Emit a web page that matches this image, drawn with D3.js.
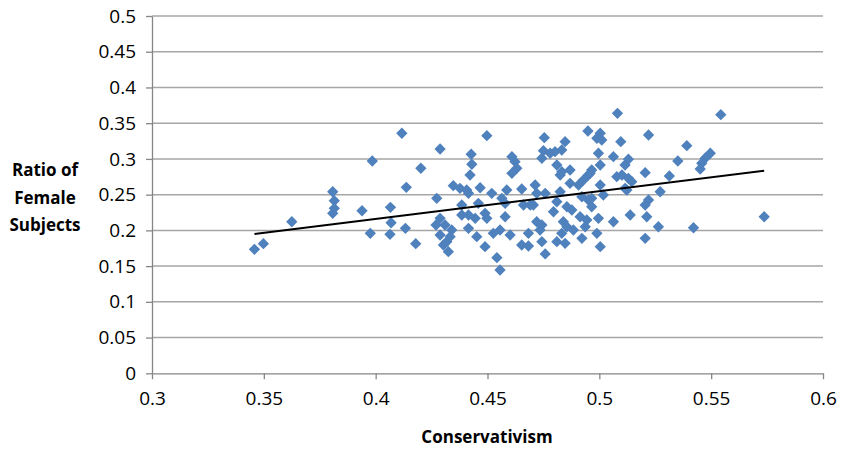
<!DOCTYPE html>
<html><head><meta charset="utf-8">
<script src="https://cdn.jsdelivr.net/npm/d3@7"></script>
<style>body{margin:0;background:#fff}svg{display:block}</style>
</head><body><svg id="c" width="841" height="449"></svg>
<script>
// ---- data ----
const conservativism = [0.3458,0.3498,0.3625,0.3808,0.3815,0.3815,0.3808,0.3939,0.3985,0.3976,0.4066,0.4069,0.4064,0.4117,0.4137,0.4133,0.4179,0.4202,
0.4497,0.4288,0.4427,0.4430,0.4422,0.4609,0.4623,0.4631,0.4609,0.4347,0.4377,0.4407,0.4415,0.4467,0.4519,0.4586,0.4653,0.4273,0.4385,0.4459,0.4564,0.4579,0.4661,
0.4385,0.4415,0.4445,0.4489,0.4497,0.4579,0.4288,0.4310,0.4340,0.4415,0.4288,0.4333,0.4452,0.4526,0.4556,0.4601,0.4653,0.4303,0.4325,0.4489,0.4542,0.4556,0.4318,0.4270,0.4683,0.4683,0.4720,0.4713,0.4691,
0.5081,0.4949,0.4754,0.5004,0.5011,0.4989,0.5096,0.4847,0.4832,0.4750,0.4780,0.4802,0.4743,0.4996,0.5063,0.4810,0.5004,0.4832,0.4869,0.4966,0.4951,0.4825,0.4929,0.4869,0.4907,0.5004,0.5078,
0.4720,0.4758,0.4825,0.4922,0.4951,0.5018,0.4705,0.4810,0.4855,0.4877,0.4795,0.4914,0.4944,0.4996,0.5063,0.4839,0.4855,0.4743,0.4735,0.4884,0.4937,0.4832,0.4989,0.4922,0.4743,0.4810,0.4847,0.5004,0.4758,0.4966,0.4966,0.4959,
0.5115,0.5130,0.5101,0.5130,0.5145,0.5115,0.5123,0.5138,0.5212,0.5205,0.5220,0.5205,0.5313,0.5272,0.5220,0.5205,0.5264,0.5543,0.5391,0.5351,0.5496,0.5473,0.5458,0.5451,0.5421,0.5737];
const femaleRatio = [0.1735,0.1814,0.2121,0.2541,0.2415,0.2309,0.2239,0.2275,0.2971,0.1959,0.2323,0.2107,0.1945,0.3359,0.2603,0.2029,0.1814,0.2869,
0.3325,0.3139,0.3065,0.2925,0.2775,0.3031,0.2961,0.2869,0.2799,0.2625,0.2589,0.2565,0.2519,0.2597,0.2519,0.2565,0.2579,0.2449,0.2355,0.2379,0.2449,0.2379,0.2355,
0.2215,0.2215,0.2169,0.2239,0.2169,0.2191,0.2169,0.2075,0.2005,0.2029,0.1935,0.1912,0.1912,0.1959,0.2005,0.1935,0.1795,0.1795,0.1702,0.1772,0.1618,0.1446,0.1842,0.2075,0.1959,0.1781,0.2121,0.2635,0.2355,
0.3638,0.3391,0.3297,0.3359,0.3265,0.3289,0.3241,0.3241,0.3125,0.3115,0.3079,0.3101,0.3009,0.3079,0.3031,0.2915,0.2915,0.2821,0.2845,0.2845,0.2775,0.2775,0.2705,0.2659,0.2635,0.2635,0.2751,
0.2519,0.2519,0.2541,0.2471,0.2425,0.2495,0.2355,0.2401,0.2331,0.2285,0.2261,0.2191,0.2145,0.2169,0.2121,0.2121,0.2051,0.2075,0.2005,0.2005,0.2051,0.1959,0.1959,0.1889,0.1842,0.1842,0.1819,0.1772,0.1670,0.2331,0.2449,0.2799,
0.2915,0.2995,0.2775,0.2729,0.2681,0.2589,0.2565,0.2215,0.2191,0.1889,0.3335,0.2807,0.2761,0.2541,0.2425,0.2355,0.2051,0.3619,0.3185,0.2971,0.3079,0.3009,0.2939,0.2859,0.2037,0.2191];
const trendX = [0.3458, 0.5737];
const trendY = [0.1949, 0.2835];
const xTicks = [0.3,0.35,0.4,0.45,0.5,0.55,0.6];
const xTickLabels = ["0.3","0.35","0.4","0.45","0.5","0.55","0.6"];
const yTicks = [0,0.05,0.1,0.15,0.2,0.25,0.3,0.35,0.4,0.45,0.5];
const yTickLabels = ["0","0.05","0.1","0.15","0.2","0.25","0.3","0.35","0.4","0.45","0.5"];
const xTitle = "Conservativism";
const yTitle = ["Ratio of","Female","Subjects"];

// ---- drawing ----
const svg = d3.select("#c");
const font = "'Open Sans', sans-serif";
const x = d3.scaleLinear().domain([0.3,0.6]).range([152,823]);
const y = d3.scaleLinear().domain([0,0.5]).range([373.3,16]);

// gridlines
svg.append("g").selectAll("line").data(yTicks.filter(d=>d>0)).join("line")
  .attr("x1",x(0.3)).attr("x2",x(0.6)).attr("y1",d=>y(d)).attr("y2",d=>y(d))
  .attr("stroke","#a6a6a6").attr("stroke-width",1.5);

// y axis
const yAxis = d3.axisLeft(y).tickValues(yTicks).tickSize(6).tickSizeOuter(0)
  .tickFormat((d,i)=>yTickLabels[i]);
const gy = svg.append("g").attr("transform",`translate(${x(0.3)},0)`).call(yAxis);
gy.select(".domain").attr("stroke","#868686").attr("stroke-width",1.3);
gy.selectAll(".tick line").attr("stroke","#868686").attr("stroke-width",1.3);
gy.selectAll(".tick text").attr("x",-16).attr("font-family",font).attr("font-size",19).attr("fill","#000");

// x axis
const xAxis = d3.axisBottom(x).tickValues(xTicks).tickSize(6).tickSizeOuter(0)
  .tickFormat((d,i)=>xTickLabels[i]);
const gx = svg.append("g").attr("transform",`translate(0,${y(0)})`).call(xAxis);
gx.select(".domain").attr("stroke","#868686").attr("stroke-width",1.3);
gx.selectAll(".tick line").attr("stroke","#868686").attr("stroke-width",1.3);
gx.selectAll(".tick text").attr("y",18).attr("font-family",font).attr("font-size",19).attr("fill","#000");

// points
const pts = conservativism.map((v,i)=>({x:v,y:femaleRatio[i]}));
const sym = d3.symbol().type(d3.symbolSquare).size(64);
svg.append("g").selectAll("path").data(pts).join("path")
  .attr("d",sym)
  .attr("transform",d=>`translate(${x(d.x)},${y(d.y)}) rotate(45)`)
  .attr("fill","#4f81bd");

// trend line
svg.append("line")
  .attr("x1",x(trendX[0])).attr("y1",y(trendY[0]))
  .attr("x2",x(trendX[1])).attr("y2",y(trendY[1]))
  .attr("stroke","#000").attr("stroke-width",2);

// titles
svg.append("text").attr("x",487).attr("y",443).attr("text-anchor","middle")
  .attr("font-family",font).attr("font-weight","bold").attr("font-size",17).text(xTitle);
svg.append("text").attr("text-anchor","middle").attr("font-family",font)
  .attr("font-weight","bold").attr("font-size",17)
  .selectAll("tspan").data(yTitle).join("tspan")
  .attr("x",45).attr("y",(d,i)=>176+i*27.5).text(d=>d);
</script></body></html>
